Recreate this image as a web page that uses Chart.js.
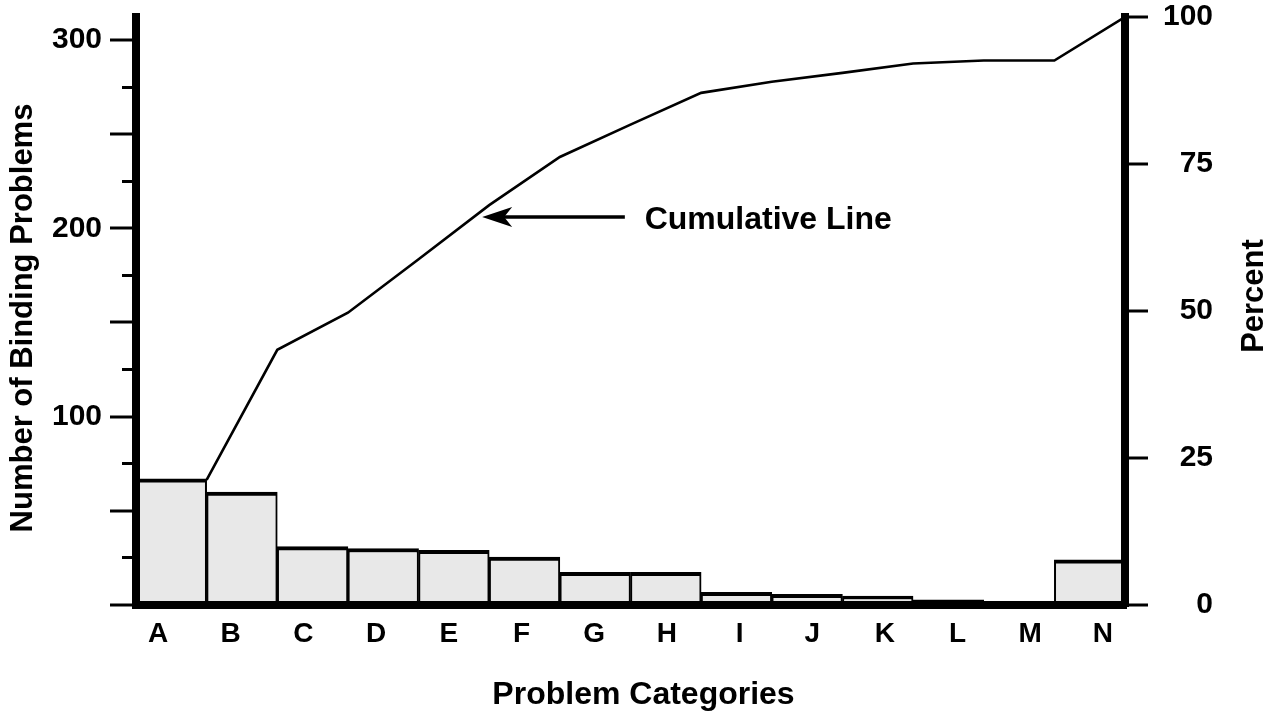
<!DOCTYPE html>
<html>
<head>
<meta charset="utf-8">
<title>Binding problems - Pareto chart</title>
<script src="https://cdn.jsdelivr.net/npm/chart.js@4.4.1/dist/chart.umd.min.js"></script>
<style>
  html, body { margin: 0; padding: 0; background: #fff; }
  canvas { display: block; }
</style>
</head>
<body>
<canvas id="paretoChart" width="1277" height="715"></canvas>
<script>
// data
const categories = ['A', 'B', 'C', 'D', 'E', 'F', 'G', 'H', 'I', 'J', 'K', 'L', 'M', 'N'];
const problemCounts = [67, 60, 31, 30, 29, 25.5, 17.4, 17.4, 6.7, 5.7, 4.8, 2.7, 0, 24];
const cumulativePercent = [21.3, 43.4, 49.7, 58.8, 68.0, 76.2, 81.7, 87.1, 89.0, 90.5, 92.1, 92.6, 92.6, 100];
const countLabels = [100, 200, 300];
const percentTicks = [0, 25, 50, 75, 100];

const FONT = "'Liberation Sans', Arial, Helvetica, sans-serif";
Chart.defaults.font.family = FONT;
Chart.defaults.color = '#000';

const COUNT_MAX = 312.2;

// annotation anchor, in line-axis / percent units
const note = { tipX: 4.9, tipY: 66.0, tailX: 6.92, textX: 7.2, textY: 65.4, text: 'Cumulative Line' };

function verticalText(ctx, text, x, y) {
  ctx.save();
  ctx.translate(x, y);
  ctx.rotate(-Math.PI / 2);
  ctx.textAlign = 'center';
  ctx.textBaseline = 'middle';
  ctx.fillText(text, 0, 0);
  ctx.restore();
}

const notesPlugin = {
  id: 'notes',
  afterDraw(chart) {
    const { ctx, chartArea } = chart;
    const xs = chart.scales.xLine, ys = chart.scales.yR;
    const tipX = xs.getPixelForValue(note.tipX);
    const tipY = ys.getPixelForValue(note.tipY);
    const tailX = xs.getPixelForValue(note.tailX);
    const midY = (chartArea.top + chartArea.bottom) / 2;

    ctx.save();
    ctx.strokeStyle = '#000';
    ctx.fillStyle = '#000';
    ctx.lineWidth = 3.5;
    ctx.beginPath();
    ctx.moveTo(tipX + 20, tipY);
    ctx.lineTo(tailX, tipY);
    ctx.stroke();
    ctx.beginPath();
    ctx.moveTo(tipX, tipY);
    ctx.lineTo(tipX + 30, tipY - 10);
    ctx.lineTo(tipX + 22, tipY);
    ctx.lineTo(tipX + 30, tipY + 10);
    ctx.closePath();
    ctx.fill();

    ctx.font = 'bold 32px ' + FONT;
    ctx.textAlign = 'left';
    ctx.textBaseline = 'middle';
    ctx.fillText(note.text, xs.getPixelForValue(note.textX), ys.getPixelForValue(note.textY));

    // axis titles
    ctx.textAlign = 'center';
    ctx.fillText('Problem Categories', (chartArea.left + chartArea.right) / 2 + 13, chart.height - 20);

    ctx.font = 'bold 31px ' + FONT;
    verticalText(ctx, 'Number of Binding Problems', 23, midY + 7);
    verticalText(ctx, 'Percent', chart.width - 23, midY - 15);
    ctx.restore();
  }
};

const noVerticalPadding = (scale) => { scale.paddingTop = 0; scale.paddingBottom = 0; };

const ctx = document.getElementById('paretoChart').getContext('2d');

new Chart(ctx, {
  type: 'bar',
  data: {
    labels: categories,
    datasets: [{
      type: 'line',
      data: cumulativePercent.map((v, i) => ({ x: i + 1, y: v })),
      xAxisID: 'xLine',
      yAxisID: 'yR',
      borderColor: '#000',
      borderWidth: 2.6,
      pointRadius: 0,
      tension: 0,
      fill: false,
      order: 0
    }, {
      type: 'bar',
      data: problemCounts,
      xAxisID: 'x',
      yAxisID: 'y',
      backgroundColor: '#e8e8e8',
      borderColor: '#000',
      borderWidth: { top: 4, left: 2, right: 2, bottom: 0 },
      borderSkipped: false,
      grouped: false,
      barPercentage: 1,
      categoryPercentage: 1,
      order: 1
    }]
  },
  options: {
    responsive: false,
    animation: false,
    layout: { padding: { top: 17, left: 0, right: 64, bottom: 0 } },
    plugins: { legend: { display: false }, tooltip: { enabled: false } },
    scales: {
      x: {
        type: 'category',
        display: false,
        offset: true
      },
      xLine: {
        type: 'linear',
        display: false,
        offset: false,
        min: 0,
        max: categories.length
      },
      xLab: {
        type: 'linear',
        position: 'bottom',
        offset: false,
        min: -0.3027,
        max: 13.303,
        afterBuildTicks: (scale) => { scale.ticks = categories.map((c, i) => ({ value: i })); },
        afterFit: (scale) => { scale.height = 110; },
        grid: { display: true, offset: false, drawOnChartArea: false, drawTicks: false, lineWidth: 4 },
        border: { display: true, width: 8, color: '#000', z: 1 },
        ticks: {
          padding: 12,
          font: { size: 28, weight: 'bold' },
          callback: (v) => categories[v] ?? ''
        }
      },
      y: {
        position: 'left',
        weight: 1,
        min: 0,
        max: COUNT_MAX,
        afterBuildTicks: (scale) => {
          const t = [];
          for (let v = 0; v <= 300; v += 50) t.push({ value: v });
          scale.ticks = t;
        },
        afterFit: (scale) => { scale.width = 136; noVerticalPadding(scale); },
        grid: {
          drawOnChartArea: false,
          tickLength: 26,
          tickWidth: 3,
          tickColor: '#000',
          lineWidth: 4
        },
        border: { display: true, width: 8, color: '#000', z: 1 },
        ticks: {
          padding: 8,
          font: { size: 30, weight: 'bold' },
          callback: (v) => countLabels.includes(v) ? String(v) : ''
        }
      },
      yMinor: {
        position: 'left',
        weight: 0,
        min: 0,
        max: COUNT_MAX,
        afterBuildTicks: (scale) => {
          const t = [];
          for (let v = 25; v < 300; v += 50) t.push({ value: v });
          scale.ticks = t;
        },
        afterFit: (scale) => { scale.width = 0; noVerticalPadding(scale); },
        grid: {
          drawOnChartArea: false,
          tickLength: 14,
          tickWidth: 3,
          tickColor: '#000'
        },
        border: { display: false },
        ticks: { display: false }
      },
      yR: {
        position: 'right',
        min: 0,
        max: 100,
        afterBuildTicks: (scale) => { scale.ticks = percentTicks.map(v => ({ value: v })); },
        afterFit: (scale) => { scale.width = 88; noVerticalPadding(scale); },
        grid: {
          drawOnChartArea: false,
          tickLength: 23,
          tickWidth: 3,
          tickColor: '#000',
          lineWidth: 4
        },
        border: { display: true, width: 8, color: '#000', z: 1 },
        ticks: {
          padding: 12,
          crossAlign: 'far',
          font: { size: 30, weight: 'bold' },
          callback: (v) => String(v)
        }
      }
    }
  },
  plugins: [notesPlugin]
});
</script>
</body>
</html>
